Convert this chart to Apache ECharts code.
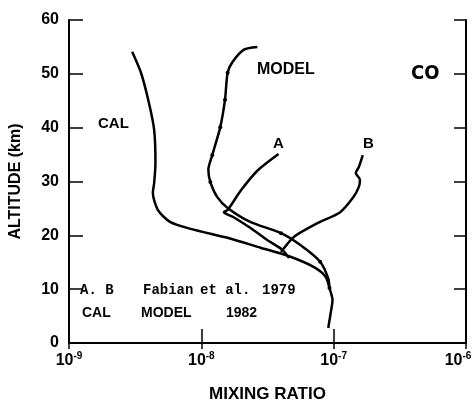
<!DOCTYPE html>
<html>
<head>
<meta charset="utf-8">
<script src="https://cdn.jsdelivr.net/npm/echarts@6/dist/echarts.min.js"></script>
<style>
  html, body { margin: 0; padding: 0; background: #fff; }
  #chart { width: 474px; height: 409px; }
</style>
</head>
<body>
<div id="chart"></div>
<script>
// CO 混合比 高度剖面
// [mixing ratio, altitude km]
var calCurve = [
  [3.0e-9, 54.1], [3.5e-9, 50.2], [4.0e-9, 44.8], [4.4e-9, 39.6], [4.5e-9, 33.5],
  [4.4e-9, 29.7], [4.3e-9, 27.9], [4.7e-9, 24.7], [5.8e-9, 22.5], [8.3e-9, 21.2],
  [1.6e-8, 19.5], [2.8e-8, 17.7], [4.5e-8, 16.2], [7.1e-8, 14.1], [8.7e-8, 12.3],
  [9.3e-8, 10.2], [9.8e-8, 8.0], [9.5e-8, 5.6], [9.1e-8, 2.8]
];
var modelCurve = [
  [2.65e-8, 55.0], [2.1e-8, 54.5], [1.72e-8, 52.2], [1.58e-8, 50.2], [1.51e-8, 45.2],
  [1.39e-8, 40.1], [1.21e-8, 34.9], [1.13e-8, 32.2], [1.17e-8, 29.9], [1.32e-8, 27.1],
  [1.58e-8, 25.1], [2.34e-8, 22.5], [4.0e-8, 20.4], [5.6e-8, 18.2], [7.9e-8, 15.1],
  [9.1e-8, 12.0], [9.3e-8, 10.2]
];
// MODEL 曲线上的小圆点
var modelDots = [3, 4, 5, 6, 8, 12, 14, 16];
var curveA = [
  [3.83e-8, 35.1], [2.65e-8, 32.0], [2.0e-8, 28.4], [1.58e-8, 24.7], [1.48e-8, 24.3],
  [1.74e-8, 23.4], [2.34e-8, 21.4], [3.16e-8, 19.1], [4.1e-8, 17.3], [4.6e-8, 15.8]
];
var curveB = [
  [1.66e-7, 34.9], [1.55e-7, 32.7], [1.47e-7, 31.6], [1.58e-7, 30.3], [1.55e-7, 29.0],
  [1.41e-7, 27.1], [1.12e-7, 24.3], [7.6e-8, 22.3], [5.0e-8, 19.7], [4.0e-8, 16.9]
];

var chart = echarts.init(document.getElementById('chart'));
var sans = '"Liberation Sans", Arial, sans-serif';
var mono = '"Liberation Mono", monospace';

function lineSeries(name, data, dots) {
  return {
    name: name,
    type: 'line',
    smooth: 0.25,
    data: data.map(function (p, i) {
      var hasDot = dots && dots.indexOf(i) >= 0;
      return { value: p, symbol: hasDot ? 'circle' : 'none', symbolSize: 4 };
    }),
    showSymbol: true,
    lineStyle: { color: '#000', width: 2.5 },
    itemStyle: { color: '#000' },
    animation: false
  };
}

function txt(left, top, text, size, font) {
  return {
    type: 'text', left: left, top: top,
    style: { text: text, fill: '#000', font: 'bold ' + size + 'px ' + (font || sans) }
  };
}

var option = {
  backgroundColor: '#fff',
  animation: false,
  grid: { left: 69, right: 8, top: 20, bottom: 66, outerBoundsMode: 'none' },
  xAxis: [{
    type: 'log', logBase: 10, min: 1e-9, max: 1e-6,
    position: 'bottom',
    name: 'MIXING RATIO', nameLocation: 'middle', nameGap: 43,
    nameTextStyle: { color: '#000', fontSize: 17, fontWeight: 'bold', fontFamily: sans },
    axisLine: { lineStyle: { color: '#000', width: 2 } },
    axisTick: { inside: true, length: 14, lineStyle: { color: '#000', width: 1.5 } },
    splitLine: { show: false },
    axisLabel: {
      margin: 8,
      formatter: function (v) {
        var e = Math.round(Math.log10(v));
        // 最右边的标签往左挪一点, 不被裁掉
        var s = e === -6 ? 'e' : 's';
        return '{b|10}{' + s + '|' + (e < 0 ? '-' : '') + Math.abs(e) + '}';
      },
      rich: {
        b: { fontSize: 16, fontWeight: 'bold', fontFamily: sans, color: '#000' },
        s: { fontSize: 10, fontWeight: 'bold', fontFamily: sans, color: '#000', padding: [0, 0, 9, 0] },
        e: { fontSize: 10, fontWeight: 'bold', fontFamily: sans, color: '#000', padding: [0, 16, 9, 0] }
      }
    }
  }, {
    type: 'log', logBase: 10, min: 1e-9, max: 1e-6,
    position: 'top',
    axisLine: { lineStyle: { color: '#000', width: 2 } },
    axisTick: { inside: true, length: 6, lineStyle: { color: '#000', width: 1.5 } },
    axisLabel: { show: false },
    splitLine: { show: false }
  }],
  yAxis: [{
    type: 'value', min: 0, max: 60, interval: 10,
    position: 'left',
    name: 'ALTITUDE (km)', nameLocation: 'middle', nameGap: 45, nameRotate: 90,
    nameTextStyle: { color: '#000', fontSize: 16, fontWeight: 'bold', fontFamily: sans },
    axisLine: { lineStyle: { color: '#000', width: 2 } },
    axisTick: { inside: true, length: 14, lineStyle: { color: '#000', width: 1.5 } },
    splitLine: { show: false },
    axisLabel: { margin: 10, color: '#000', fontSize: 16, fontWeight: 'bold', fontFamily: sans }
  }, {
    type: 'value', min: 0, max: 60, interval: 10,
    position: 'right',
    axisLine: { show: true, lineStyle: { color: '#000', width: 2 } },
    axisTick: { show: true, inside: true, length: 12, lineStyle: { color: '#000', width: 1.5 } },
    axisLabel: { show: false },
    splitLine: { show: false }
  }],
  series: [
    lineSeries('CAL', calCurve),
    lineSeries('MODEL', modelCurve, modelDots),
    lineSeries('A', curveA),
    lineSeries('B', curveB)
  ],
  graphic: [
    txt(98, 116, 'CAL', 15),
    txt(257, 62, 'MODEL', 16),
    txt(273, 136, 'A', 15),
    txt(363, 136, 'B', 15),
    txt(411, 64, 'CO', 20, '"DejaVu Sans Condensed", sans-serif'),
    txt(80, 283, 'A. B', 14, mono),
    txt(143, 283, 'Fabian', 14, mono),
    txt(200, 283, 'et al.', 14, mono),
    txt(262, 283, '1979', 14, mono),
    txt(82, 306, 'CAL', 14),
    txt(141, 306, 'MODEL', 14),
    txt(226, 306, '1982', 14)
  ]
};
chart.setOption(option);
</script>
</body>
</html>
